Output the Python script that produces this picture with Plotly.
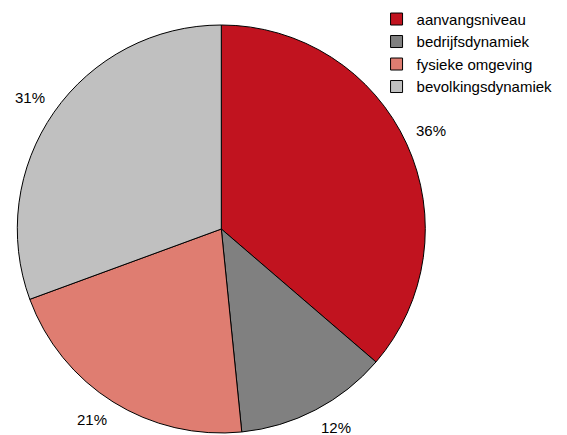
import math
import plotly.graph_objects as go

labels = ["aanvangsniveau", "bedrijfsdynamiek", "fysieke omgeving", "bevolkingsdynamiek"]
values = [36.3, 12.1, 21.0, 30.6]
colors = ["#C1131F", "#808080", "#DF7D71", "#C0C0C0"]

W, H = 567, 435
OFF = 8  # page body margin
cx, cy, R = 221.3 - OFF, 229.0 - OFF, 204.0  # pixel geometry of pie

fig = go.Figure()
fig.add_trace(go.Pie(
    labels=labels, values=values, sort=False, direction="clockwise", rotation=0,
    marker=dict(colors=colors, line=dict(color="black", width=1)),
    textinfo="none", hoverinfo="label+percent",
    domain=dict(x=[(cx - R) / W, (cx + R) / W], y=[(H - cy - R) / H, (H - cy + R) / H]),
))

total = sum(values)
cum = 0.0
label_r = R + 8
for v in values:
    mid = (cum + v / 2) / total * 2 * math.pi
    cum += v
    s, c = math.sin(mid), math.cos(mid)
    px = cx + label_r * s
    py = cy - label_r * c
    fig.add_annotation(
        x=px / W, y=1 - py / H, xref="paper", yref="paper",
        text=f"{round(v / total * 100)}%", showarrow=False,
        xanchor="left" if s >= 0 else "right",
        yanchor="bottom" if c >= 0 else "top",
        font=dict(family="Liberation Sans, Arial, sans-serif", size=15, color="black"),
    )

fig.update_layout(
    width=W, height=H,
    margin=dict(l=0, r=0, t=0, b=0, autoexpand=False),
    paper_bgcolor="white", plot_bgcolor="white",
    font=dict(family="Liberation Sans, Arial, sans-serif", size=15, color="black"),
    legend=dict(x=0.65, y=1.012, xanchor="left", yanchor="top",
                bgcolor="rgba(0,0,0,0)", font=dict(size=15), traceorder="normal"),
    showlegend=True,
)
fig.write_html("out.html")
